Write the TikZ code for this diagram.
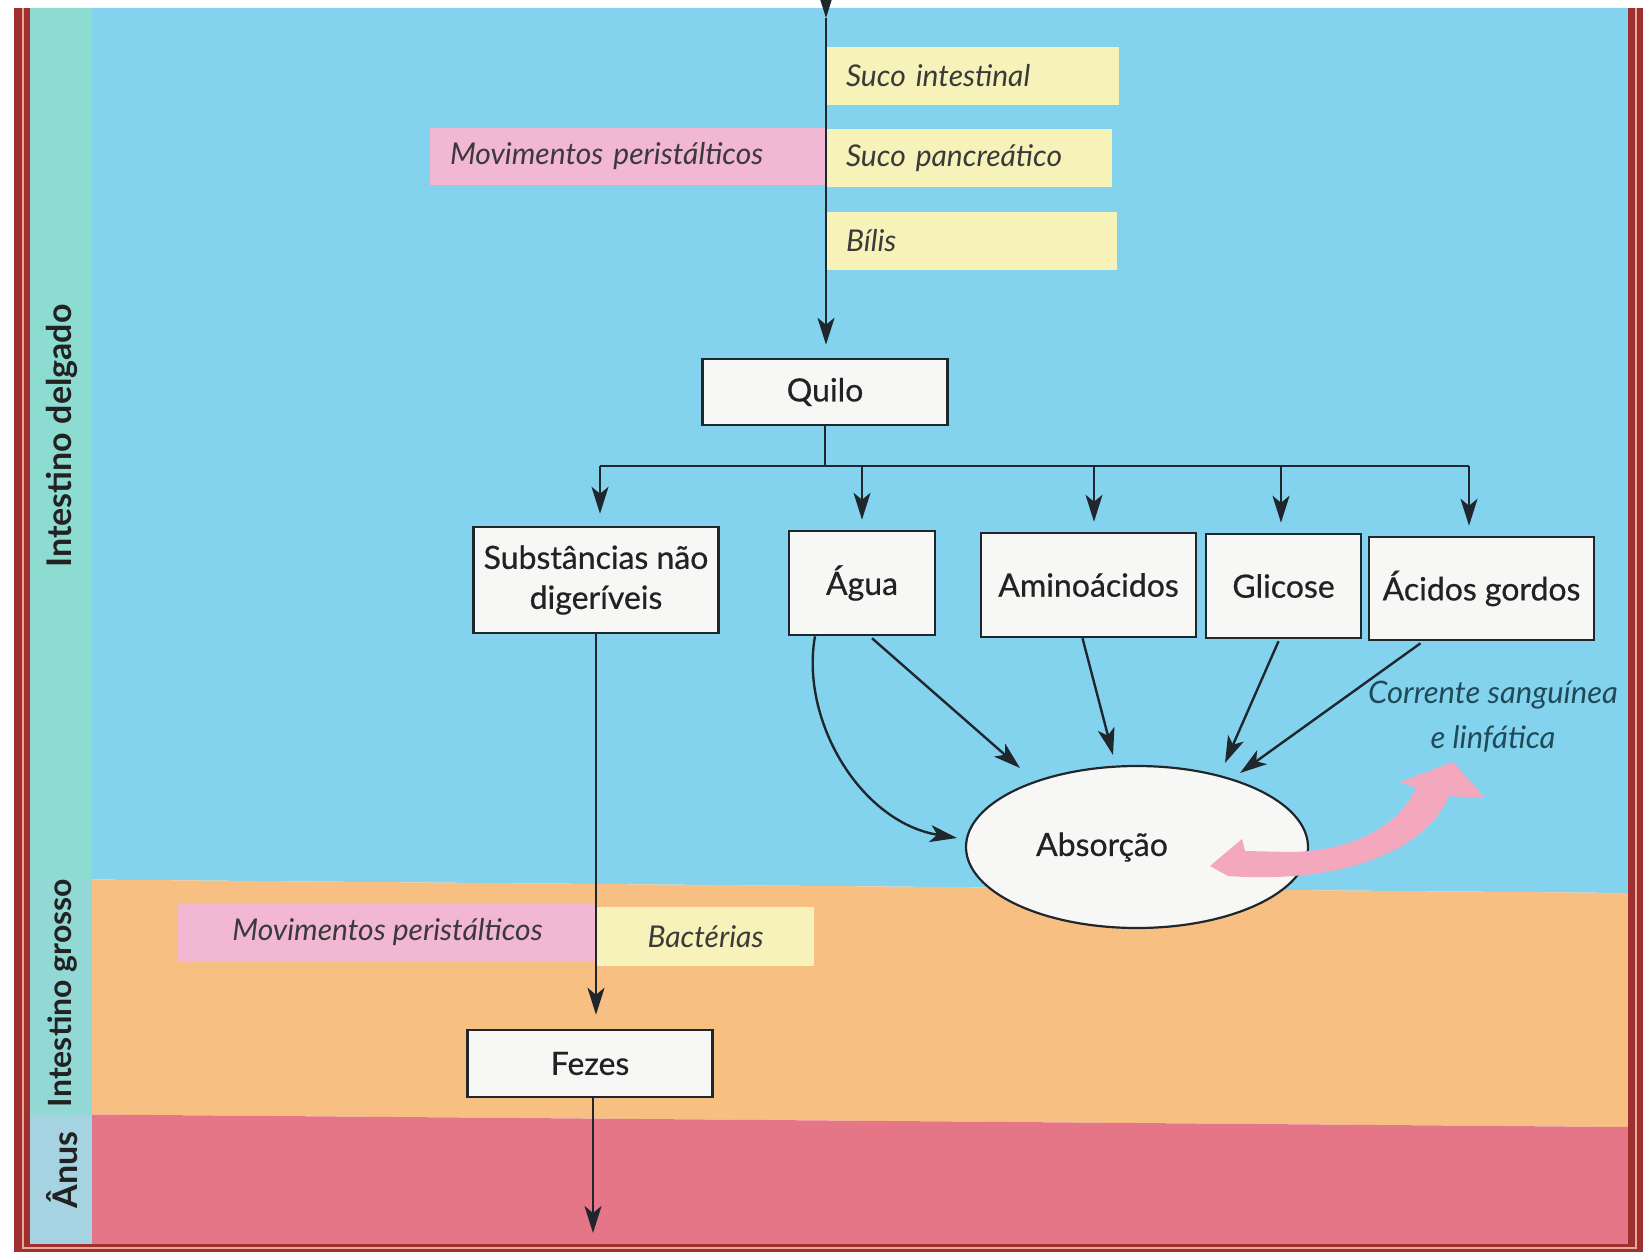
\documentclass[tikz,border=0pt]{standalone}
\usepackage{fontspec}
\setmainfont{Lato}
\newfontfamily\medfont[FakeBold=0.6]{Lato}
\usetikzlibrary{arrows.meta,shapes.geometric,calc}
\definecolor{cblue}{HTML}{84D3EE}
\definecolor{corange}{HTML}{F8BF82}
\definecolor{cred}{HTML}{E57688}
\definecolor{cteal}{HTML}{8CDCD2}
\definecolor{cteal2}{HTML}{92D9D6}
\definecolor{cteal3}{HTML}{A6D3E2}
\definecolor{cborder}{HTML}{A03030}
\definecolor{cborderlight}{HTML}{E9A898}
\definecolor{cline}{HTML}{1F272C}
\definecolor{cwhite}{HTML}{F7F7F6}
\definecolor{ctext}{HTML}{222222}
\definecolor{clab}{HTML}{3A3A3A}
\definecolor{cpinklab}{HTML}{F2B7D3}
\definecolor{cyellab}{HTML}{F6F2BA}
\definecolor{cpinkarrow}{HTML}{F4A8BD}
\definecolor{ctealtext}{HTML}{1F4B58}
\begin{document}
\begin{tikzpicture}[x=1pt,y=-1pt,
  arr/.style={draw=cline, line width=2.4pt, -{Stealth[length=27pt,width=17pt,inset=7pt]}},
  plain/.style={draw=cline, line width=2.4pt},
  wbox/.style={rectangle, draw=cline, line width=2.5pt, fill=cwhite, inner sep=0pt, font=\medfont\fontsize{32}{40}\selectfont, text=ctext, align=center},
  absell/.style={ellipse, draw=cline, line width=2.2pt, fill=cwhite, minimum width=342pt, minimum height=162pt, inner sep=0pt},
  lab/.style={rectangle, inner ysep=0pt, font=\fontsize{30}{36}\selectfont\itshape, text=clab},
  ylab/.style={lab, fill=cyellab},
  plab/.style={lab, fill=cpinklab},
  side/.style={rotate=90, font=\fontsize{34}{40}\selectfont\bfseries, text=ctext}
]
\useasboundingbox (0,0) rectangle (1643,1260);
\fill[white] (0,0) rectangle (1643,1260);
% bands
\fill[cblue] (30,8) -- (1628,8) -- (1628,893) -- (30,879) -- cycle;
\fill[corange] (30,879) -- (1628,893) -- (1628,1127) -- (30,1114) -- cycle;
\fill[cred] (30,1114) -- (1628,1127) -- (1628,1245) -- (30,1245) -- cycle;
% side strip
\fill[cteal] (30,8) rectangle (92,880);
\fill[cteal2] (30,880) rectangle (92,1115);
\fill[cteal3] (30,1115) rectangle (92,1245);
% border
\fill[cborder] (14,8) rectangle (30,1252);
\fill[cborder] (14,1244) rectangle (1643,1252);
\fill[cborder] (1628,8) rectangle (1643,1252);
\draw[cborderlight, line width=1.5pt] (23,8) -- (23,1248) -- (1636,1248) -- (1636,8);

% side labels
\node[side] (sdel) at (62,436) {Intestino delgado};
\node[side, font=\fontsize{32}{38}\selectfont\bfseries] (sgro) at (62,993) {Intestino grosso};
\node[side] (sanu) at (62,1170) {Ânus};

% top labels
\node[ylab, minimum width=293pt, minimum height=58pt, text width=253pt, inner xsep=20pt, align=left] (sint) at (972.5,76) {Suco intestinal};
\node[ylab, minimum width=286pt, minimum height=58pt, text width=246pt, inner xsep=20pt, align=left] (span) at (969,158) {Suco pancreático};
\node[ylab, minimum width=291pt, minimum height=58pt, text width=251pt, inner xsep=20pt, align=left] (bil) at (971.5,241) {Bílis};
\node[plab, minimum width=396pt, minimum height=57pt, text width=356pt, inner xsep=20pt, align=left] (mov1) at (628,156.5) {Movimentos peristálticos};

% bottom labels
\node[plab, minimum width=419pt, minimum height=59pt] (mov2) at (387.5,932.5) {Movimentos peristálticos};
\node[ylab, minimum width=217pt, minimum height=59pt] (bac) at (705.5,936.5) {Bactérias};

% boxes
\node[wbox, minimum width=245pt, minimum height=66pt] (quilo) at (825,392) {Quilo};
\node[wbox, minimum width=245pt, minimum height=106pt] (subst) at (596,580) {Substâncias não\\digeríveis};
\node[wbox, minimum width=146pt, minimum height=104pt] (agua) at (862,583) {Água};
\node[wbox, minimum width=215pt, minimum height=104pt] (amino) at (1088.5,585) {Aminoácidos};
\node[wbox, minimum width=155pt, minimum height=104pt] (glic) at (1283.5,586) {Glicose};
\node[wbox, minimum width=225pt, minimum height=103pt] (acid) at (1481.5,588.5) {Ácidos gordos};
\node[wbox, minimum width=245pt, minimum height=67pt] (fezes) at (590,1063.5) {Fezes};
\node[absell, label={[xshift=-35pt, font=\medfont\fontsize{32}{38}\selectfont, text=ctext]center:Absorção}] (abs) at (1137,847) {};

% corrente text
\node[font=\fontsize{31}{45}\selectfont\itshape, text=ctealtext, align=center] (corr) at (1493,717) {Corrente sanguínea\\e linfática};

% coordinates
\coordinate (topin) at (826,-9);
\coordinate (toptip) at (826,18);
\coordinate (bar) at (825,466);
\coordinate (barL) at (600,466);
\coordinate (barR) at (1469,466);
\coordinate (anusend) at (593,1233);

% connectors
\draw[arr] (topin) -- (toptip);
\draw[arr, shorten >=13pt] (toptip) -- (toptip |- quilo.north);
\draw[plain] (quilo.south) -- (bar);
\draw[plain] (barL) -- (barR);
\draw[arr, shorten >=12pt] (barL) -- (barL |- subst.north);
\draw[arr, shorten >=10pt] (agua.north |- bar) -- (agua.north);
\draw[arr, shorten >=10pt] ([xshift=5.5pt]amino.north |- bar) -- ([xshift=5.5pt]amino.north);
\draw[arr, shorten >=10pt] ([xshift=-2.5pt]glic.north |- bar) -- ([xshift=-2.5pt]glic.north);
\draw[arr, shorten >=10pt] (barR) -- (barR |- acid.north);
\draw[arr, shorten >=14pt] (subst.south) -- (subst.south |- fezes.north);
\draw[arr] ([xshift=3pt]fezes.south) -- ([xshift=3pt]fezes.south |- anusend);

% arrows to absorption
\draw[arr] ($(agua.south)+(-47,0)$) .. controls (800,720) and (860,822) .. ($(abs)+(-180,-9)$);
\draw[arr] ($(agua.south)+(10,2)$) -- ($(abs)+(-117,-79)$);
\draw[arr] ($(amino.south)+(-6,0)$) -- ($(abs)+(-24,-92)$);
\draw[arr] ($(glic.south)+(-5,2)$) -- ($(abs)+(88,-84)$);
\draw[arr] ($(acid.south)+(-61,2)$) -- ($(abs)+(103,-74)$);

% pink arrow
\fill[cpinkarrow] (1416,788) .. controls (1398,828) and (1350,851) .. (1290,852) -- (1245,851) -- (1242,839) -- (1210,866) -- (1228,876) .. controls (1340,884) and (1425,852) .. (1449,796) -- (1485,798) -- (1453,762) -- (1400,782) -- cycle;
\end{tikzpicture}
\end{document}
